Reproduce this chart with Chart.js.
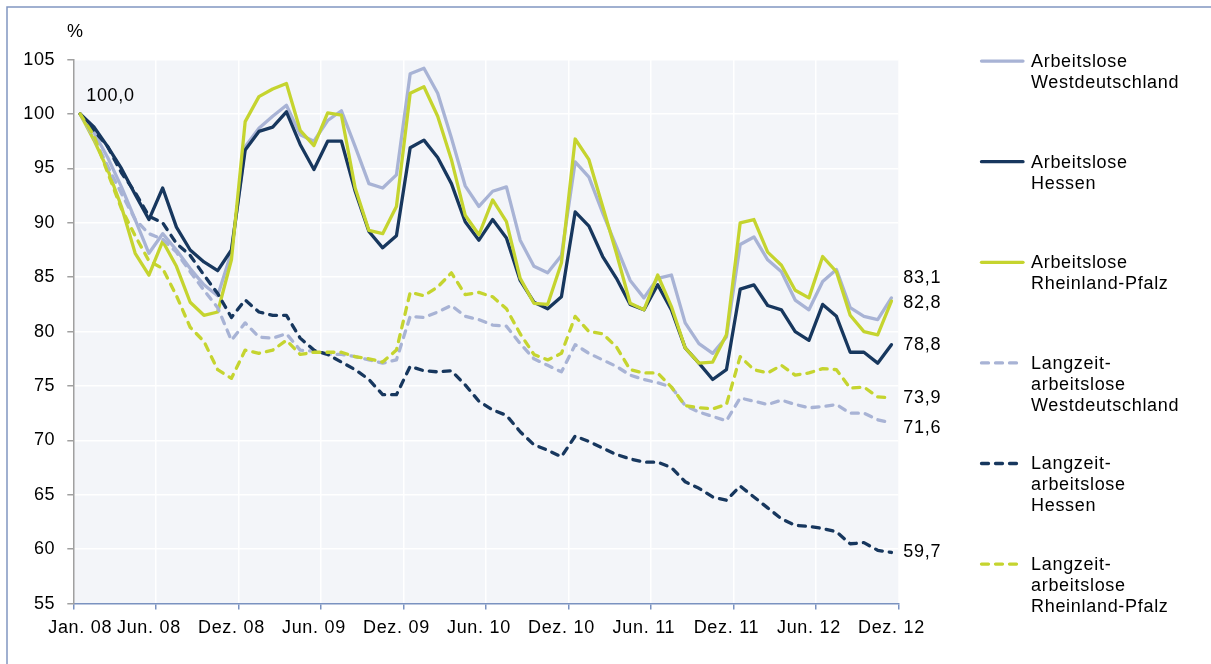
<!DOCTYPE html>
<html>
<head>
<meta charset="utf-8">
<script src="https://cdn.jsdelivr.net/npm/chart.js@4.4.1/dist/chart.umd.min.js"></script>
<style>
  html, body { margin: 0; padding: 0; background: #fff; }
  #wrap { position: relative; width: 1211px; height: 664px; }
</style>
</head>
<body>
<div id="wrap"><canvas id="chart" width="1211" height="664"></canvas></div>
<script>
// Months Jan. 08 .. Dez. 12 (category axis)
const monthNames = ['Jan.', 'Feb.', 'Mrz.', 'Apr.', 'Mai', 'Jun.', 'Jul.', 'Aug.', 'Sep.', 'Okt.', 'Nov.', 'Dez.'];
const years = ['08', '09', '10', '11', '12'];
const months = years.flatMap(y => monthNames.map(m => m + ' ' + y));

// only these month labels are written under the axis
const labelledMonths = ['Jan. 08', 'Jun. 08', 'Dez. 08', 'Jun. 09', 'Dez. 09', 'Jun. 10',
  'Dez. 10', 'Jun. 11', 'Dez. 11', 'Jun. 12', 'Dez. 12'];

const yTicks = [55, 60, 65, 70, 75, 80, 85, 90, 95, 100, 105];

// Index Jan. 2008 = 100
const alWest = [100, 98.3, 96.0, 93.3, 90.3, 87.2, 89.0, 87.5, 85.8, 84.3,
  83.3, 87.3, 97.0, 98.7, 99.8, 100.8, 98.1, 97.5, 99.4, 100.3,
  97.0, 93.6, 93.2, 94.4, 103.7, 104.2, 101.9, 97.8, 93.4, 91.5,
  92.9, 93.3, 88.4, 86.0, 85.4, 87.0, 95.6, 94.2, 90.9, 87.8,
  84.7, 83.1, 84.9, 85.2, 80.8, 78.9, 78.0, 79.5, 88.0, 88.7,
  86.6, 85.5, 82.9, 82.0, 84.6, 85.7, 82.2, 81.4, 81.1, 83.1];

const alHessen = [100, 98.8, 97.0, 95.0, 92.6, 90.3, 93.2, 89.6, 87.5, 86.4,
  85.6, 87.5, 96.7, 98.4, 98.8, 100.2, 97.2, 94.9, 97.5, 97.5,
  92.9, 89.2, 87.7, 88.8, 96.9, 97.6, 96.0, 93.6, 90.1, 88.4,
  90.3, 88.6, 84.7, 82.7, 82.1, 83.2, 91.0, 89.7, 86.9, 84.9,
  82.5, 82.0, 84.3, 82.0, 78.5, 77.1, 75.6, 76.5, 83.9, 84.3,
  82.4, 82.0, 80.0, 79.2, 82.5, 81.4, 78.1, 78.1, 77.1, 78.8];

const alRlp = [100, 97.6, 94.9, 91.5, 87.2, 85.2, 88.3, 86.0, 82.7, 81.5,
  81.8, 86.6, 99.3, 101.6, 102.3, 102.8, 98.5, 97.1, 100.1, 99.9,
  93.2, 89.3, 89.0, 91.5, 101.9, 102.5, 99.8, 95.8, 90.7, 88.9,
  92.1, 90.1, 84.9, 82.6, 82.5, 86.3, 97.7, 95.8, 91.5, 87.2,
  82.6, 82.0, 85.2, 82.3, 78.5, 77.1, 77.2, 79.7, 90.0, 90.3,
  87.3, 86.1, 83.8, 83.1, 86.9, 85.5, 81.5, 80.0, 79.7, 82.8];

const lzWest = [100, 97.8, 95.2, 92.7, 90.3, 89.0, 88.5, 87.3, 85.5, 83.8,
  82.2, 79.2, 80.8, 79.5, 79.4, 79.8, 78.3, 78.2, 77.9, 77.9,
  77.7, 77.4, 77.1, 77.4, 81.4, 81.3, 81.8, 82.4, 81.4, 81.1,
  80.6, 80.5, 78.9, 77.5, 76.9, 76.3, 78.8, 78.0, 77.4, 76.8,
  76.0, 75.6, 75.3, 74.9, 73.2, 72.6, 72.2, 71.8, 73.9, 73.6,
  73.3, 73.7, 73.3, 73.0, 73.1, 73.3, 72.5, 72.5, 71.9, 71.6];

const lzHessen = [100, 98.5, 97.0, 94.6, 92.8, 90.6, 90.0, 88.1, 87.0, 85.2,
  83.5, 81.3, 82.9, 81.8, 81.5, 81.5, 79.4, 78.3, 77.9, 77.2,
  76.5, 75.6, 74.2, 74.2, 76.8, 76.4, 76.3, 76.4, 75.1, 73.6,
  72.8, 72.3, 70.8, 69.6, 69.1, 68.5, 70.4, 69.9, 69.3, 68.7,
  68.3, 68.0, 68.0, 67.5, 66.2, 65.6, 64.8, 64.5, 65.8, 64.8,
  63.8, 62.8, 62.2, 62.1, 61.9, 61.6, 60.5, 60.6, 59.9, 59.7];

const lzRlp = [100, 98.0, 94.6, 91.3, 88.8, 86.5, 85.8, 83.3, 80.4, 79.1,
  76.5, 75.7, 78.3, 78.0, 78.3, 79.2, 77.9, 78.1, 78.1, 78.1,
  77.7, 77.5, 77.2, 78.3, 83.6, 83.3, 84.1, 85.4, 83.4, 83.6,
  83.2, 82.1, 79.8, 77.9, 77.4, 78.0, 81.4, 80.0, 79.8, 78.6,
  76.5, 76.2, 76.2, 74.9, 73.2, 73.0, 72.9, 73.3, 77.7, 76.5,
  76.2, 76.9, 76.0, 76.2, 76.6, 76.5, 74.8, 74.9, 74.0, 73.9];

const seriesNames = [
  ['Arbeitslose', 'Westdeutschland'],
  ['Arbeitslose', 'Hessen'],
  ['Arbeitslose', 'Rheinland-Pfalz'],
  ['Langzeit-', 'arbeitslose', 'Westdeutschland'],
  ['Langzeit-', 'arbeitslose', 'Hessen'],
  ['Langzeit-', 'arbeitslose', 'Rheinland-Pfalz']
];
const seriesValues = [alWest, alHessen, alRlp, lzWest, lzHessen, lzRlp];

const LAVENDER = '#A8B3D5';
const NAVY = '#17375E';
const LIME = '#C5D42F';
const colors = [LAVENDER, NAVY, LIME, LAVENDER, NAVY, LIME];
const dashed = [false, false, false, true, true, true];
// vertical nudge of the end value labels so they do not collide
const endLabelShift = [-20, 0, 2, 5, 0, 0];

const FONT = "'Liberation Sans', Arial, sans-serif";
const DASH = [7, 7];
const LINE_W = 3.3;

const fmt = v => v.toFixed(1).replace('.', ',');

const decor = {
  id: 'decor',
  beforeDraw(chart) {
    const { ctx, chartArea: a } = chart;
    ctx.letterSpacing = '0.7px';
    ctx.save();
    ctx.fillStyle = '#F3F5F9';
    ctx.fillRect(a.left, a.top, a.right - a.left, a.bottom - a.top);
    // outer frame of the figure
    ctx.strokeStyle = '#8197C1';
    ctx.lineWidth = 1.5;
    ctx.beginPath();
    ctx.moveTo(7, 664);
    ctx.lineTo(7, 7);
    ctx.lineTo(1211, 7);
    ctx.stroke();
    ctx.restore();
  },
  afterDraw(chart) {
    const { ctx, chartArea: a } = chart;
    ctx.save();
    ctx.font = '18px ' + FONT;
    ctx.fillStyle = '#000';
    ctx.textBaseline = 'middle';

    ctx.textAlign = 'center';
    ctx.fillText('%', a.left + 2, 32);

    // start value
    const p0 = chart.getDatasetMeta(0).data[0];
    ctx.textAlign = 'left';
    ctx.fillText(fmt(seriesValues[0][0]), p0.x + 6, p0.y - 18);

    // end values
    chart.data.datasets.forEach((ds, i) => {
      const meta = chart.getDatasetMeta(i);
      const last = meta.data[meta.data.length - 1];
      const v = ds.data[ds.data.length - 1];
      ctx.fillText(fmt(v), a.right + 5, last.y + endLabelShift[i]);
    });

    // legend
    const lx = 980, tx = 1031, step = 100.6;
    chart.data.datasets.forEach((ds, i) => {
      const y = a.top + 1.5 + i * step;
      ctx.strokeStyle = ds.borderColor;
      ctx.lineWidth = LINE_W;
      ctx.lineCap = 'round';
      ctx.setLineDash(dashed[i] ? DASH : []);
      ctx.beginPath();
      ctx.moveTo(lx + 1.5, y);
      ctx.lineTo(dashed[i] ? lx + 37 : lx + 43, y);
      ctx.stroke();
      ctx.setLineDash([]);
      seriesNames[i].forEach((line, j) => {
        ctx.fillText(line, tx, y + 1 + j * 21);
      });
    });
    ctx.restore();
  }
};

const datasets = seriesValues.map((vals, i) => ({
  label: seriesNames[i].join(' '),
  data: vals,
  borderColor: colors[i],
  backgroundColor: colors[i],
  borderWidth: LINE_W,
  borderDash: dashed[i] ? DASH : [],
  borderCapStyle: 'round',
  borderJoinStyle: 'round',
  pointRadius: 0,
  tension: 0,
  fill: false,
  order: seriesValues.length - i
}));

new Chart(document.getElementById('chart'), {
  type: 'line',
  data: { labels: months, datasets },
  options: {
    responsive: false,
    devicePixelRatio: 1,
    animation: false,
    events: [],
    layout: { padding: { top: 59.6, right: 312.7, bottom: 0, left: 0 } },
    plugins: { legend: { display: false }, tooltip: { enabled: false } },
    scales: {
      x: {
        type: 'category',
        offset: true,
        afterFit(scale) { scale.height = 60.4; },
        grid: {
          offset: true,
          lineWidth: 1.5,
          color: ctx => (ctx.index !== undefined && ctx.index > 0 && ctx.index % 6 === 0) ? '#FFFFFF' : 'rgba(0,0,0,0)',
          tickColor: ctx => (ctx.index === undefined || ctx.index % 6 === 0) ? '#7A92C0' : 'rgba(0,0,0,0)',
          tickLength: 6
        },
        border: { color: '#7A92C0', width: 1.5 },
        ticks: {
          autoSkip: false,
          maxRotation: 0,
          minRotation: 0,
          padding: 8,
          color: '#000',
          font: { family: FONT, size: 18 },
          callback: function (value) {
            const lab = this.getLabelForValue(value);
            return labelledMonths.includes(lab) ? lab : '';
          }
        }
      },
      y: {
        min: yTicks[0],
        max: yTicks[yTicks.length - 1],
        afterFit(scale) { scale.width = 73.3; },
        afterBuildTicks(scale) { scale.ticks = yTicks.map(v => ({ value: v })); },
        grid: {
          lineWidth: 1.5,
          color: ctx => (ctx.tick && ctx.tick.value === yTicks[0]) ? 'rgba(0,0,0,0)' : '#FFFFFF',
          tickColor: '#A0A0A0',
          tickLength: 6
        },
        border: { color: '#A0A0A0', width: 1.5 },
        ticks: {
          padding: 12,
          color: '#000',
          font: { family: FONT, size: 18 }
        }
      }
    }
  },
  plugins: [decor]
});
</script>
</body>
</html>
